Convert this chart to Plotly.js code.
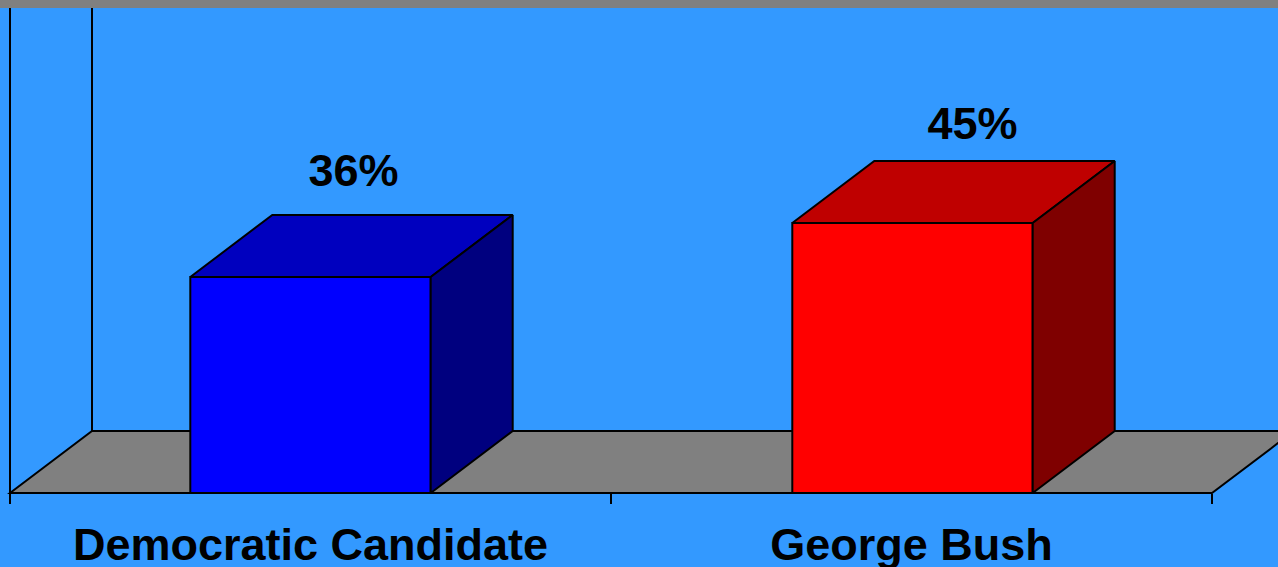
<!DOCTYPE html>
<html>
<head>
<meta charset="utf-8">
<script src="https://cdn.plot.ly/plotly-3.0.1.min.js"></script>
<style>html,body{margin:0;padding:0;background:#3399FF;overflow:hidden}#chart{width:1278px;height:567px}</style>
</head>
<body>
<div id="chart"></div>
<script>
// Data
const categories = ["Democratic Candidate", "George Bush"];
const shares = [36, 45];
const frontColors = ["#0000FF", "#FF0000"];
const topColors = ["#0000BF", "#BF0000"];
const sideColors = ["#00007F", "#7F0000"];

// Scales of the drawing: one category is 601px, one percent is 6px
const W = 1278, H = 567, pxPerCat = 601, pxPerPct = 6, leftPx = 10, basePx = 493, stripPx = 8;
const depthX = 82 / pxPerCat, depthY = 62 / pxPerPct, barW = 0.4;
const xRange = [-leftPx / pxPerCat, (W - leftPx) / pxPerCat];
const yRange = [-(H - basePx) / pxPerPct, basePx / pxPerPct];
const axisPos = (H - basePx) / H;
const nCat = categories.length;
const labelCenters = categories.map((c, i) => i + 0.5);
const barNudge = [0, 1 / pxPerCat];
const centers = labelCenters.map((c, i) => c + barNudge[i]);
const lw = 2;
const edge = {color: "#000", width: lw};

const traces = [];
traces.push({type: "bar", x: centers, y: shares, width: barW,
  marker: {color: frontColors, line: {color: "#000", width: lw}},
  hoverinfo: "skip", showlegend: false});
shares.forEach((v, i) => {
  const l = centers[i] - barW / 2, r = centers[i] + barW / 2;
  traces.push({type: "scatter", mode: "lines", fill: "toself", fillcolor: topColors[i],
    x: [l, r, r + depthX, l + depthX, l], y: [v, v, v + depthY, v + depthY, v],
    line: edge, hoverinfo: "skip", showlegend: false});
  traces.push({type: "scatter", mode: "lines", fill: "toself", fillcolor: sideColors[i],
    x: [r, r + depthX, r + depthX, r, r], y: [v, v + depthY, depthY, 0, v],
    line: edge, hoverinfo: "skip", showlegend: false});
});
// Value labels sit by hand above each box, as in the source slide
const labelDX = [43 / pxPerCat, 61 / pxPerCat], labelDY = [40 / pxPerPct, 33 / pxPerPct];
traces.push({type: "scatter", mode: "text",
  x: labelCenters.map((c, i) => c + labelDX[i]),
  y: shares.map((v, i) => v + depthY + labelDY[i]),
  text: shares.map(v => v + "%"), textposition: "middle center", cliponaxis: false,
  textfont: {family: "Liberation Sans", size: 45, color: "#000", weight: 700},
  hoverinfo: "skip", showlegend: false});
// Invisible trace keeps the label axis alive
traces.push({type: "scatter", mode: "markers", xaxis: "x2", yaxis: "y", x: labelCenters, y: shares,
  marker: {opacity: 0, size: 1}, hoverinfo: "skip", showlegend: false});

const layout = {
  width: W, height: H, margin: {l: 0, r: 0, t: 0, b: 0, pad: 0},
  paper_bgcolor: "#3399FF", plot_bgcolor: "#3399FF", showlegend: false,
  xaxis: {range: xRange, anchor: "free", position: axisPos, showline: false, showgrid: false, zeroline: false,
    tickmode: "array", tickvals: [0, 1, 2], ticktext: ["", "", ""], ticks: "outside", ticklen: 10, tickwidth: 2, tickcolor: "#000"},
  xaxis2: {range: xRange, overlaying: "x", anchor: "free", position: axisPos, side: "bottom",
    showline: false, showgrid: false, zeroline: false, ticks: "",
    tickmode: "array", tickvals: labelCenters, ticktext: categories, ticklabelstandoff: 21,
    tickfont: {family: "Liberation Sans", size: 45, color: "#000", weight: 700}},
  yaxis: {range: yRange, visible: false, fixedrange: true},
  shapes: [
    {type: "path", xref: "x", yref: "y", layer: "below", fillcolor: "#808080", line: edge,
     path: `M0,0 L${depthX},${depthY} L${nCat + depthX},${depthY} L${nCat},0 Z`},
    {type: "line", xref: "x", yref: "y", layer: "below", line: edge, x0: 0, x1: 0, y0: 0, y1: yRange[1]},
    {type: "line", xref: "x", yref: "y", layer: "below", line: edge, x0: depthX, x1: depthX, y0: depthY, y1: yRange[1]},
    {type: "rect", xref: "paper", yref: "paper", layer: "above", fillcolor: "#808080", line: {width: 0},
     x0: 0, x1: 1, y0: 1 - stripPx / H, y1: 1}
  ]
};
Plotly.newPlot("chart", traces, layout, {displayModeBar: false, staticPlot: true});
</script>
</body>
</html>
